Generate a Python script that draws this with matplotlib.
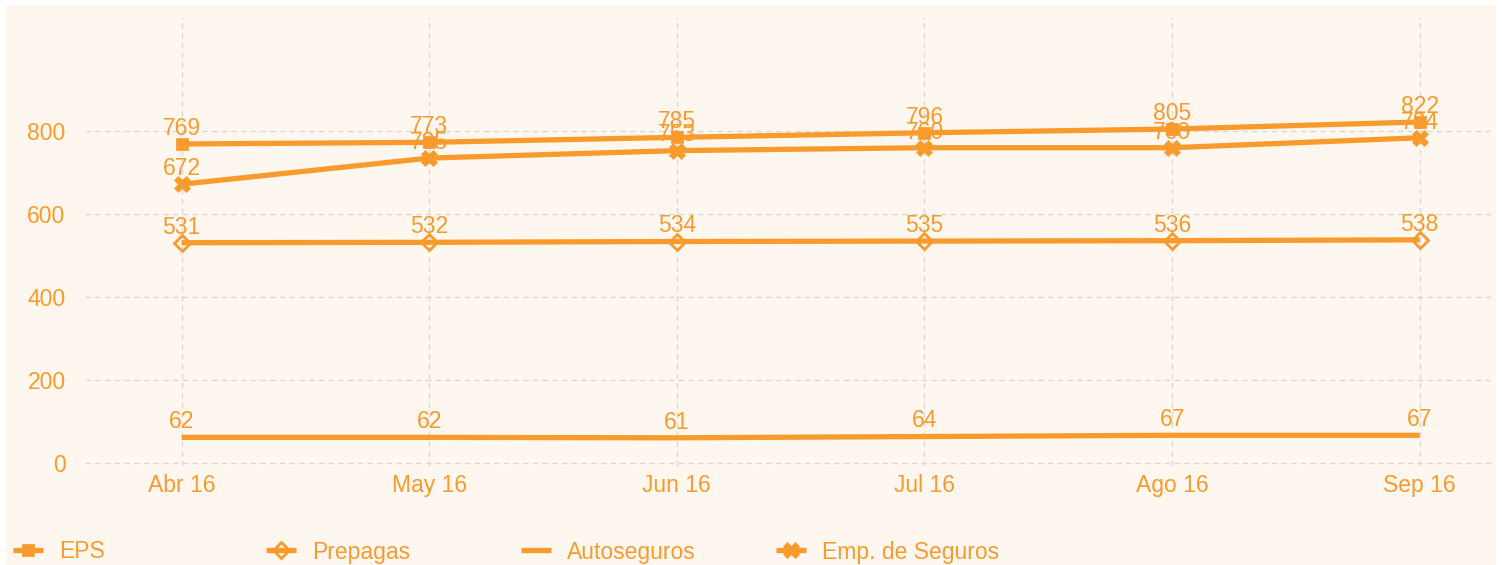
import matplotlib.pyplot as plt
import numpy as np

months = ['Abr 16', 'May 16', 'Jun 16', 'Jul 16', 'Ago 16', 'Sep 16']
eps = [769, 773, 785, 796, 805, 822]
prepagas = [531, 532, 534, 535, 536, 538]
autoseguros = [62, 62, 61, 64, 67, 67]
emp_seguros = [672, 735, 753, 760, 760, 784]

orange = '#F99B2C'
bg = '#FEF7F0'

fig = plt.figure(figsize=(15.02, 5.65), dpi=100)
fig.patch.set_facecolor('white')
# cream panel behind everything
fig.add_artist(plt.Rectangle((6 / 1502, 0), 1490 / 1502, 560 / 565,
                             transform=fig.transFigure, facecolor=bg,
                             edgecolor='none', zorder=-10))

ax = fig.add_axes([85 / 1502, 1 - 466 / 565, (1494 - 85) / 1502, (466 - 17) / 565])
ax.patch.set_alpha(0)

x = np.arange(len(months))
series = [
    ('EPS', eps, 's', 9, 'full'),
    ('Prepagas', prepagas, 'D', 8, 'none'),
    ('Autoseguros', autoseguros, '', 0, 'full'),
    ('Emp. de Seguros', emp_seguros, 'X', 11, 'full'),
]
handles = []
for name, vals, mk, ms, fill in series:
    kw = dict(color=orange, lw=3.8, label=name, solid_capstyle='butt')
    if mk:
        kw.update(marker=mk, markersize=ms, fillstyle=fill,
                  markeredgewidth=2 if fill == 'none' else 0.5,
                  markerfacecolor=orange if fill == 'full' else bg)
    h, = ax.plot(x, vals, zorder=3, **kw)
    handles.append(h)
    for xi, v in zip(x, vals):
        ax.annotate(str(v), (xi, v), xytext=(0, 3), textcoords='offset points',
                    ha='center', va='bottom', color=orange, fontsize=16.5,
                    family='Liberation Sans', zorder=4)

ax.set_xlim(-0.39, 5.3)
ax.set_ylim(-7, 1075)
ax.set_yticks([0, 200, 400, 600, 800])
ax.set_xticks(x)
ax.set_xticklabels(months)
ax.grid(True, color='#D9D9D9', linestyle=(0, (4, 3)), lw=1)
ax.set_axisbelow(True)
for s in ax.spines.values():
    s.set_visible(False)
ax.tick_params(length=0, colors=orange, labelsize=16.5, pad=6)
for lab in ax.get_xticklabels() + ax.get_yticklabels():
    lab.set_family('Liberation Sans')
ax.tick_params(axis='y', pad=14)

# legend entries at fixed spacing along the bottom
leg_x = [6, 259, 514, 769]
for h, lx in zip(handles, leg_x):
    leg = fig.legend([h], [h.get_label()], loc='center left',
                     bbox_to_anchor=(lx / 1502, 1 - 552 / 565),
                     frameon=False, handlelength=1.3, handletextpad=0.7,
                     borderaxespad=0, borderpad=0.3,
                     prop={'family': 'Liberation Sans', 'size': 16.5})
    for t in leg.get_texts():
        t.set_color(orange)

fig.savefig('out.png', dpi=100)
